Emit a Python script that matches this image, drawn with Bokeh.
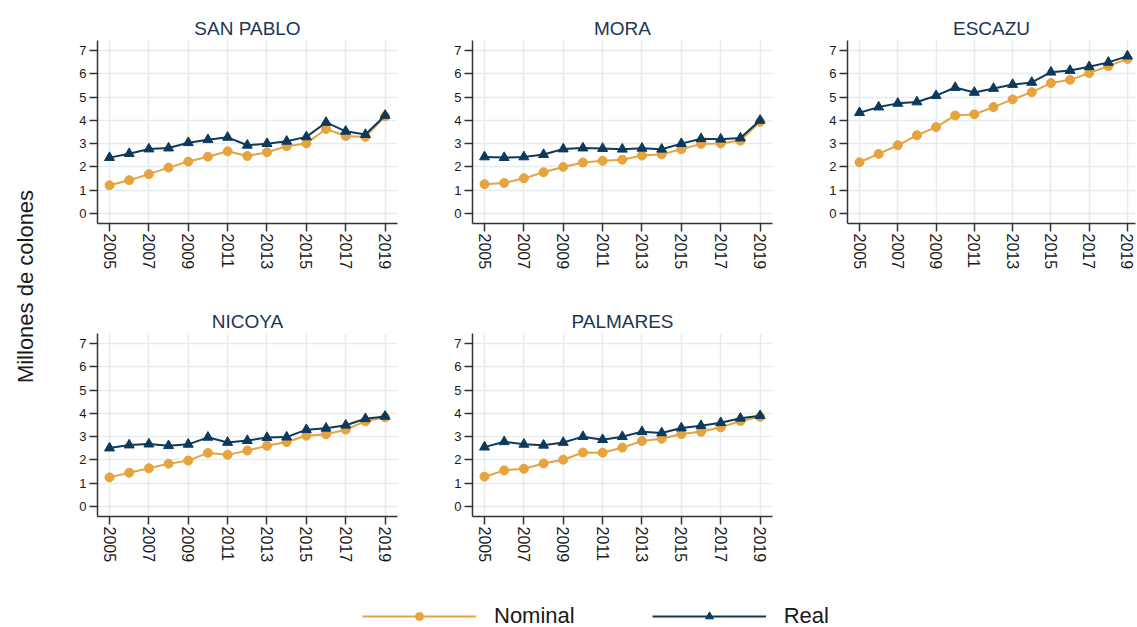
import math
from bokeh.plotting import figure
from bokeh.layouts import row, column
from bokeh.models import Range1d, Label, Legend, LegendItem, FixedTicker
from bokeh.embed import file_html
from bokeh.resources import INLINE

years = list(range(2005, 2020))
x_ticks = [2005, 2007, 2009, 2011, 2013, 2015, 2017, 2019]
y_ticks = [0, 1, 2, 3, 4, 5, 6, 7]

titles = ["SAN PABLO", "MORA", "ESCAZU", "NICOYA", "PALMARES"]

san_pablo_nominal = [1.21, 1.43, 1.69, 1.97, 2.23, 2.44, 2.67, 2.47, 2.63, 2.89, 3.01, 3.63, 3.33, 3.29, 4.17]
san_pablo_real = [2.40, 2.57, 2.77, 2.81, 3.04, 3.17, 3.27, 2.93, 3.00, 3.10, 3.29, 3.91, 3.53, 3.39, 4.21]

mora_nominal = [1.26, 1.31, 1.51, 1.77, 2.00, 2.19, 2.26, 2.31, 2.49, 2.54, 2.76, 2.99, 3.01, 3.13, 3.94]
mora_real = [2.43, 2.40, 2.43, 2.53, 2.77, 2.81, 2.79, 2.76, 2.80, 2.76, 3.00, 3.21, 3.19, 3.24, 4.00]

escazu_nominal = [2.20, 2.56, 2.93, 3.36, 3.71, 4.21, 4.26, 4.57, 4.90, 5.21, 5.60, 5.74, 6.03, 6.33, 6.64]
escazu_real = [4.33, 4.57, 4.73, 4.79, 5.06, 5.41, 5.20, 5.37, 5.54, 5.63, 6.07, 6.14, 6.30, 6.49, 6.76]

nicoya_nominal = [1.25, 1.45, 1.64, 1.84, 1.97, 2.30, 2.22, 2.40, 2.61, 2.77, 3.04, 3.10, 3.30, 3.66, 3.83]
nicoya_real = [2.51, 2.64, 2.68, 2.61, 2.67, 2.97, 2.75, 2.83, 2.96, 2.98, 3.30, 3.36, 3.49, 3.77, 3.87]

palmares_nominal = [1.28, 1.55, 1.62, 1.85, 2.01, 2.32, 2.31, 2.53, 2.81, 2.91, 3.11, 3.21, 3.40, 3.67, 3.85]
palmares_real = [2.55, 2.78, 2.67, 2.63, 2.75, 3.00, 2.87, 3.00, 3.21, 3.16, 3.37, 3.47, 3.60, 3.79, 3.90]

NOM_COLOR = "#E6A33E"
REAL_COLOR = "#0D3A5C"
TITLE_COLOR = "#1E3555"
GRID_COLOR = "#E4ECEF"
FONT = "Liberation Sans"


def panel(title, nominal, real, width, right_border, x_start, x_end, height, top_border, bottom_border):
    p = figure(width=width, height=height,
               x_range=Range1d(x_start, x_end), y_range=Range1d(-0.43, 7.43),
               output_backend="svg", toolbar_location=None,
               min_border_left=39, min_border_right=right_border,
               min_border_top=top_border, min_border_bottom=bottom_border,
               title=title)
    p.title.align = "center"
    p.title.text_font = FONT
    p.title.text_font_size = "19px"
    p.title.text_font_style = "normal"
    p.title.text_color = TITLE_COLOR
    p.title.standoff = 3
    p.outline_line_color = None
    p.background_fill_color = "white"
    p.border_fill_color = "white"

    p.xaxis.ticker = FixedTicker(ticks=x_ticks)
    p.yaxis.ticker = FixedTicker(ticks=y_ticks)
    for ax in (p.xaxis[0], p.yaxis[0]):
        ax.axis_line_color = "#333333"
        ax.axis_line_width = 1.5
        ax.major_tick_line_color = "#333333"
        ax.major_tick_line_width = 1.5
        ax.major_tick_in = 0
        ax.major_tick_out = 8
        ax.minor_tick_line_color = None
        ax.major_label_text_font = FONT
        ax.major_label_text_color = "#1a1a1a"
    p.xaxis.major_label_orientation = "vertical"
    p.xaxis.major_label_text_font_size = "16px"
    p.xaxis.major_label_standoff = 2
    p.yaxis.major_label_text_font_size = "13px"
    p.yaxis.major_label_standoff = 3

    p.xgrid.grid_line_color = GRID_COLOR
    p.ygrid.grid_line_color = GRID_COLOR
    p.xgrid.grid_line_width = 1.5
    p.ygrid.grid_line_width = 1.5

    p.line(years, nominal, line_color=NOM_COLOR, line_width=2)
    p.scatter(years, nominal, marker="circle", size=9, fill_color=NOM_COLOR, line_color=NOM_COLOR)
    p.line(years, real, line_color=REAL_COLOR, line_width=2)
    p.scatter(years, real, marker="triangle", size=10, fill_color=REAL_COLOR, line_color=REAL_COLOR)
    return p


H1, T1, B1 = 301, 40, 78
H2, T2, B2 = 267, 32, 52
XS, XE = 2004.39, 2019.63

p1 = panel(titles[0], san_pablo_nominal, san_pablo_real, 375, 36, XS, XE, H1, T1, B1)
p2 = panel(titles[1], mora_nominal, mora_real, 375, 36, XS, XE, H1, T1, B1)
p3 = panel(titles[2], escazu_nominal, escazu_real, 329, 2, 2004.373, 2019.42, H1, T1, B1)
p4 = panel(titles[3], nicoya_nominal, nicoya_real, 375, 36, XS, XE, H2, T2, B2)
p5 = panel(titles[4], palmares_nominal, palmares_real, 375, 36, XS, XE, H2, T2, B2)

# y-axis title column
ylab = figure(width=58, height=H1 + H2, x_range=Range1d(0, 58), y_range=Range1d(0, H1 + H2),
              x_axis_type=None, y_axis_type=None, output_backend="svg", toolbar_location=None,
              min_border=0, outline_line_color=None)
ylab.xgrid.visible = False
ylab.ygrid.visible = False
ylab.add_layout(Label(x=25, y=282, text="Millones de colones", angle=math.pi / 2,
                      text_align="center", text_baseline="middle",
                      text_font=FONT, text_font_size="22px", text_color="#1a1a1a"))

# legend strip
leg = figure(width=1137, height=59, x_range=Range1d(0, 1), y_range=Range1d(0, 1),
             x_axis_type=None, y_axis_type=None, output_backend="svg", toolbar_location=None,
             min_border=0, outline_line_color=None)
ln = leg.line(years, san_pablo_nominal, line_color=NOM_COLOR, line_width=2)
sn = leg.scatter(years, san_pablo_nominal, marker="circle", size=10, fill_color=NOM_COLOR, line_color=NOM_COLOR)
lr = leg.line(years, san_pablo_real, line_color=REAL_COLOR, line_width=2)
sr = leg.scatter(years, san_pablo_real, marker="triangle", size=11, fill_color=REAL_COLOR, line_color=REAL_COLOR)
legend = Legend(items=[LegendItem(label="Nominal", renderers=[ln, sn]),
                       LegendItem(label="Real", renderers=[lr, sr])],
                orientation="horizontal", location=(362, -2),
                glyph_width=114, glyph_height=20, label_standoff=18, spacing=77,
                label_text_font=FONT, label_text_font_size="22px", label_text_color="#1a1a1a",
                padding=0, margin=0, border_line_color=None, background_fill_alpha=0)
leg.add_layout(legend)

layout = column(row(ylab, column(row(p1, p2, p3), row(p4, p5))), leg)

open("out.html", "w").write(file_html(layout, INLINE))
